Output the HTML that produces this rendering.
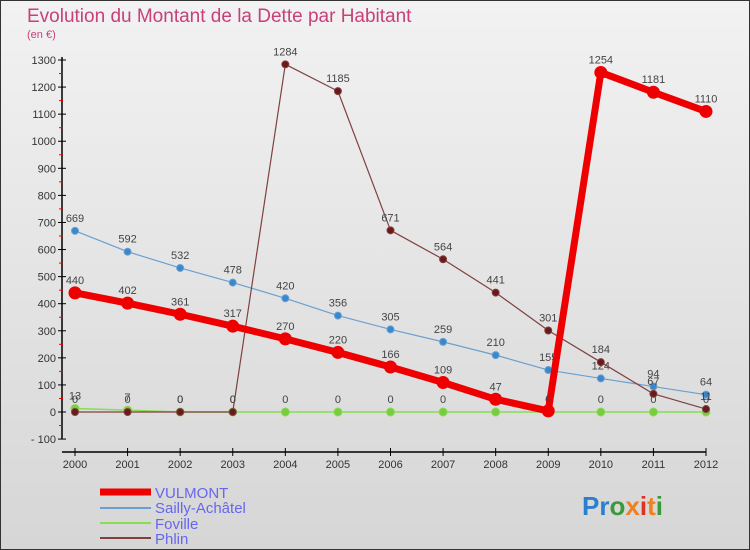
<!DOCTYPE html>
<html><head><meta charset="utf-8"><style>
body{margin:0}
#c{width:750px;height:550px;position:relative;overflow:hidden;background:linear-gradient(#f2f2f2,#d6d6d6);font-family:"Liberation Sans",sans-serif}
</style></head><body>
<div id="c">
<svg id="s" width="750" height="550" xmlns="http://www.w3.org/2000/svg">
<rect x="0.5" y="0.5" width="749" height="549" fill="none" stroke="#333"/>
<text x="27" y="22" font-size="19" fill="#c8407a">Evolution du Montant de la Dette par Habitant</text>
<text x="27" y="38" font-size="11" fill="#c8407a">(en €)</text>
<g id="axes"></g><g id="series"></g>
<g font-size="15" fill="#6666ee">
<line x1="100" y1="492" x2="151" y2="492" stroke="#e00" stroke-width="7"/>
<text x="155" y="498">VULMONT</text>
<line x1="100" y1="508" x2="151" y2="508" stroke="#6aa0d0" stroke-width="2"/>
<text x="155" y="513">Sailly-Achâtel</text>
<line x1="100" y1="523" x2="151" y2="523" stroke="#88dd55" stroke-width="2"/>
<text x="155" y="529">Foville</text>
<line x1="100" y1="538" x2="151" y2="538" stroke="#804040" stroke-width="2"/>
<text x="155" y="544">Phlin</text>
</g>
<g font-size="26" font-weight="bold">
<text x="582" y="515"><tspan fill="#2a7fd0">Pr</tspan><tspan fill="#3a9a3a">o</tspan><tspan fill="#f08020">x</tspan><tspan fill="#e03020">i</tspan><tspan fill="#f08020">t</tspan><tspan fill="#3a9a3a">i</tspan></text>
</g>
</svg>
</div>
<script>
const years=[2000,2001,2002,2003,2004,2005,2006,2007,2008,2009,2010,2011,2012];
const yTicks=[-100,0,100,200,300,400,500,600,700,800,900,1000,1100,1200,1300];
const vulmont=[440,402,361,317,270,220,166,109,47,4,1254,1181,1110];
const sailly=[669,592,532,478,420,356,305,259,210,155,124,94,64];
const foville=[13,7,0,0,0,0,0,0,0,0,0,0,0];
const phlin=[0,0,0,0,1284,1185,671,564,441,301,184,67,11];
const NS="http://www.w3.org/2000/svg";
const X=i=>75+i*(706-75)/12;
const Y=v=>412-v*(352/1300);
function mk(t,a,p){const e=document.createElementNS(NS,t);for(const k in a)e.setAttribute(k,a[k]);p.appendChild(e);return e;}
const ax=document.getElementById('axes');
let l=mk('line',{x1:62,y1:Y(1300)-3,x2:62,y2:Y(-100),stroke:'#000','stroke-width':1.5},ax);


l=mk('line',{x1:62,y1:452,x2:706,y2:452,stroke:'#000','stroke-width':1.5},ax);


yTicks.forEach((v,i)=>{
 mk('line',{x1:58,y1:Y(v),x2:66,y2:Y(v),stroke:'#000'},ax);
 if(i<yTicks.length-1)mk('line',{x1:59,y1:Y(v+50),x2:63,y2:Y(v+50),stroke:'#e00'},ax);
 const t=mk('text',{x:56,y:Y(v)+4,'text-anchor':'end','font-size':11,fill:'#333'},ax);
 t.textContent=v<0?'- '+(-v):v;
 
 
});
years.forEach((y,i)=>{
 mk('line',{x1:X(i),y1:448,x2:X(i),y2:456,stroke:'#000'},ax);
 const t=mk('text',{x:X(i),y:468,'text-anchor':'middle','font-size':11,fill:'#333'},ax);
 t.textContent=y;
 
 
});
const sg=document.getElementById('series');
function draw(data,color,w,r,dot,name){
 const g=mk('g',{},sg);
 
 
 const pl=mk('polyline',{points:data.map((v,i)=>X(i)+','+Y(v)).join(' '),fill:'none',stroke:color,'stroke-width':w,'stroke-linejoin':'round'},g);
 
 
 data.forEach((v,i)=>{
  const c=mk('circle',{cx:X(i),cy:Y(v),r:r,fill:dot,stroke:color,'stroke-width':1},g);
  
  
  const t=mk('text',{x:X(i),y:Y(v)-9,'text-anchor':'middle','font-size':11,fill:'#444'},g);
  t.textContent=v;
  
  
 });
}
draw(foville,'#88dd55',1.5,4,'#77cc44','foville');
draw(sailly,'#6aa0d0',1.2,3.5,'#3a88cc','sailly');
draw(phlin,'#804040',1.2,3.5,'#6a1a1a','phlin');
draw(vulmont,'#ee0000',7,6,'#ee0000','vulmont');
</script>
</body></html>
